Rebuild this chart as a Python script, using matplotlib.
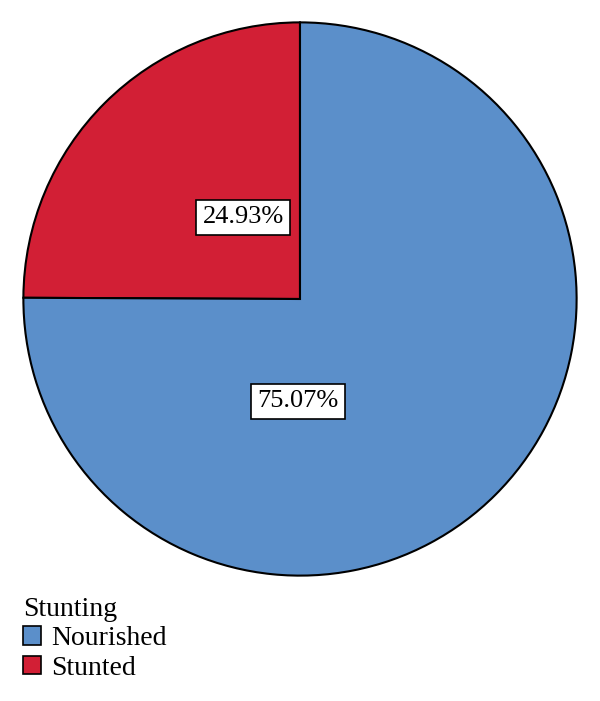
import matplotlib.pyplot as plt
from matplotlib.patches import Patch

plt.rcParams['font.family'] = ['Liberation Serif', 'DejaVu Serif']

categories = ["Stunted", "Nourished"]
shares = [24.93, 75.07]
colors = ["#d21f35", "#5b8fca"]
legend_order = ["Nourished", "Stunted"]
# label spots inside the pie (data units, radius 1)
label_pos = [(-0.205, 0.295), (-0.007, -0.37)]

fig = plt.figure(figsize=(6, 7.01), dpi=100)
ax = fig.add_axes([22 / 600, 124 / 701, 556 / 600, 556 / 701])

wedges, texts, autotexts = ax.pie(
    shares, colors=colors, startangle=90, counterclock=True,
    autopct=lambda p: f"{p:.2f}%",
    wedgeprops=dict(edgecolor="black", linewidth=1.5),
    textprops=dict(fontsize=19),
)
for t, pos in zip(autotexts, label_pos):
    t.set_position(pos)
    t.set_bbox(dict(facecolor="white", edgecolor="black", linewidth=1.2, pad=4.5))

ax.set_xlim(-1.005, 1.005)
ax.set_ylim(-1.005, 1.005)
ax.set_aspect("equal")
ax.axis("off")

handles = [Patch(facecolor=colors[categories.index(c)], edgecolor="black", linewidth=1.2)
           for c in legend_order]
leg = fig.legend(handles, legend_order, title="Stunting", loc="upper left",
                 bbox_to_anchor=(0.022 + 10 / 600, 0.158 - 7 / 701), frameon=False,
                 fontsize=20, title_fontsize=20, handlelength=0.65, handleheight=0.65,
                 handletextpad=0.36, labelspacing=0.15, borderaxespad=0, borderpad=0)
leg._legend_box.align = "left"

fig.savefig("out.png", dpi=100)
